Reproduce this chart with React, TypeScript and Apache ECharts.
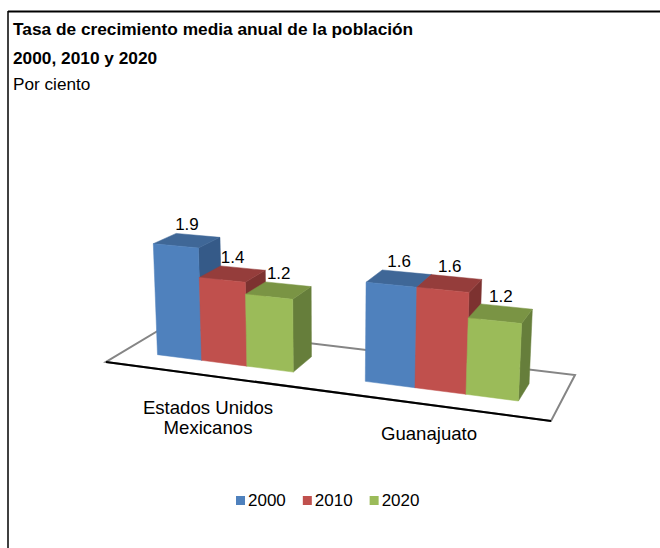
import React, { useEffect, useRef } from "react";
import * as echarts from "echarts";

const categories = ["Estados Unidos\nMexicanos", "Guanajuato"];
const seriesNames = ["2000", "2010", "2020"];
const values2000 = [1.9, 1.6];
const values2010 = [1.4, 1.6];
const values2020 = [1.2, 1.2];
const seriesValues = [values2000, values2010, values2020];
const labels2000 = ["1.9", "1.6"];
const labels2010 = ["1.4", "1.6"];
const labels2020 = ["1.2", "1.2"];
const seriesLabels = [labels2000, labels2010, labels2020];
const frontColors = ["#4F81BD", "#C0504D", "#9BBB59"];
const topColors = ["#3F6797", "#953D3B", "#7A9444"];
const sideColors = ["#355A88", "#7D3230", "#667E3B"];

const FONT = "Liberation Sans";
const GRID = { left: 97.5, width: 442, top: 280, height: 120 };

// Floor plane: homography from (u along categories, v depth) to page pixels
const FLOOR = { x0: 106, y0: 362, x1: 551, y1: 421, x2: 575, y2: 375, x3: 166, y3: 326 };
function makeProjector() {
  const { x0, y0, x1, y1, x2, y2, x3, y3 } = FLOOR;
  const dx1 = x1 - x2, dx2 = x3 - x2, sx = x0 - x1 + x2 - x3;
  const dy1 = y1 - y2, dy2 = y3 - y2, sy = y0 - y1 + y2 - y3;
  const den = dx1 * dy2 - dx2 * dy1;
  const g = (sx * dy2 - dx2 * sy) / den;
  const h = (dx1 * sy - sx * dy1) / den;
  const a = x1 - x0 + g * x1, b = x3 - x0 + h * x3;
  const d = y1 - y0 + g * y1, e = y3 - y0 + h * y3;
  return (u: number, v: number) => {
    const w = g * u + h * v + 1;
    return { x: (a * u + b * v + x0) / w, y: (d * u + e * v + y0) / w, w };
  };
}
const project = makeProjector();

const V_FRONT = 0.3;
const V_BACK = 0.685;
const BAR_SHARE = 2 / 9; // of a category band
const HEIGHT_SCALE = 59.5 / 60;
const LEAN_X = 330;
const LEAN = 0.00022;

function renderBar(params: any, api: any) {
  const s = params.seriesIndex as number;
  const i = params.dataIndex as number;
  const value = api.value(1) as number;
  const base = api.coord([i, 0]);
  const rawHeight = base[1] - api.coord([i, value])[1];
  const band = api.size([1, 0])[0];
  const barW = band * BAR_SHARE;
  const xLeft = base[0] + (s - 1.5) * barW;

  const uL = (xLeft - GRID.left) / GRID.width;
  const uR = (xLeft + barW - GRID.left) / GRID.width;

  const pt = (u: number, v: number, up: boolean) => {
    const p = project(u, v);
    if (!up) return [p.x, p.y];
    const h = (rawHeight * HEIGHT_SCALE) / p.w;
    return [p.x + (p.x - LEAN_X) * LEAN * h, p.y - h];
  };

  const fbl = pt(uL, V_FRONT, false), fbr = pt(uR, V_FRONT, false);
  const ftl = pt(uL, V_FRONT, true), ftr = pt(uR, V_FRONT, true);
  const bbr = pt(uR, V_BACK, false);
  const btl = pt(uL, V_BACK, true), btr = pt(uR, V_BACK, true);

  const poly = (points: number[][], fill: string) => ({
    type: "polygon",
    shape: { points },
    style: { fill, stroke: fill, lineWidth: 0.5 },
  });

  return {
    type: "group",
    children: [
      poly([fbr, bbr, btr, ftr], sideColors[s]),
      poly([ftl, ftr, btr, btl], topColors[s]),
      poly([fbl, fbr, ftr, ftl], frontColors[s]),
      {
        type: "text",
        z2: 10,
        style: {
          text: seriesLabels[s][i],
          x: (ftl[0] + ftr[0] + btl[0] + btr[0]) / 4,
          y: (btl[1] + btr[1]) / 2 - 10.5,
          align: "center",
          verticalAlign: "middle",
          fill: "#000",
          font: `17px "${FONT}"`,
        },
      },
    ],
  };
}

const [c00, c10, c11, c01] = [project(0, 0), project(1, 0), project(1, 1), project(0, 1)];

export default function App() {
  const ref = useRef<HTMLDivElement>(null);
  useEffect(() => {
    const chart = echarts.init(ref.current!, null, { renderer: "svg" });
    chart.setOption({
      animation: false,
      backgroundColor: "#fff",
      title: {
        text: "Tasa de crecimiento media anual de la población\n2000, 2010 y 2020",
        subtext: "Por ciento",
        left: 13,
        top: 14,
        padding: 0,
        itemGap: 0,
        textStyle: { fontFamily: FONT, fontSize: 17.3, fontWeight: "bold", color: "#000", lineHeight: 29 },
        subtextStyle: { fontFamily: FONT, fontSize: 17.2, color: "#000", lineHeight: 23 },
      },
      legend: {
        data: seriesNames,
        left: 236,
        top: 492,
        padding: 0,
        icon: "rect",
        itemWidth: 9,
        itemHeight: 9,
        itemGap: 17,
        selectedMode: false,
        textStyle: { fontFamily: FONT, fontSize: 17, color: "#000", padding: [0, 0, 0, -2] },
      },
      grid: { left: GRID.left, width: GRID.width, top: GRID.top, height: GRID.height },
      xAxis: {
        type: "category",
        data: categories,
        axisLine: { show: false },
        axisTick: { show: false },
        axisLabel: {
          interval: 0,
          margin: -3,
          hideOverlap: false,
          verticalAlign: "top",
          formatter: (val: string, idx: number) =>
            idx === 0
              ? val.split("\n").map((t) => `{a|${t}}`).join("\n")
              : `{b|${val}}`,
          rich: {
            a: { fontFamily: FONT, fontSize: 18.6, color: "#000", lineHeight: 20 },
            b: { fontFamily: FONT, fontSize: 18.6, color: "#000", lineHeight: 20, padding: [52, 0, 0, 0] },
          },
        },
      },
      yAxis: { type: "value", min: 0, max: 2, show: false },
      series: seriesNames.map((name, s) => ({
        name,
        type: "custom",
        renderItem: renderBar,
        clip: false,
        itemStyle: { color: frontColors[s] },
        encode: { x: 0, y: 1 },
        data: seriesValues[s].map((v, i) => [i, v]),
      })),
      graphic: [
        { type: "line", z: 0, shape: { x1: 8, y1: 11.5, x2: 660, y2: 11.5 }, style: { stroke: "#000", lineWidth: 2 } },
        { type: "line", z: 0, shape: { x1: 8, y1: 11, x2: 8, y2: 548 }, style: { stroke: "#000", lineWidth: 1.5 } },
        {
          type: "polygon",
          z: 0,
          shape: { points: [[c00.x, c00.y], [c10.x, c10.y], [c11.x, c11.y], [c01.x, c01.y]] },
          style: { fill: "#fff", stroke: "#858585", lineWidth: 2 },
        },
        {
          type: "line",
          z: 0,
          shape: { x1: c00.x, y1: c00.y, x2: c10.x, y2: c10.y },
          style: { stroke: "#000", lineWidth: 2 },
        },
      ],
    });
    return () => chart.dispose();
  }, []);
  return (
    <div
      ref={ref}
      style={{ position: "absolute", left: 0, top: 0, width: 660, height: 548 }}
    />
  );
}
